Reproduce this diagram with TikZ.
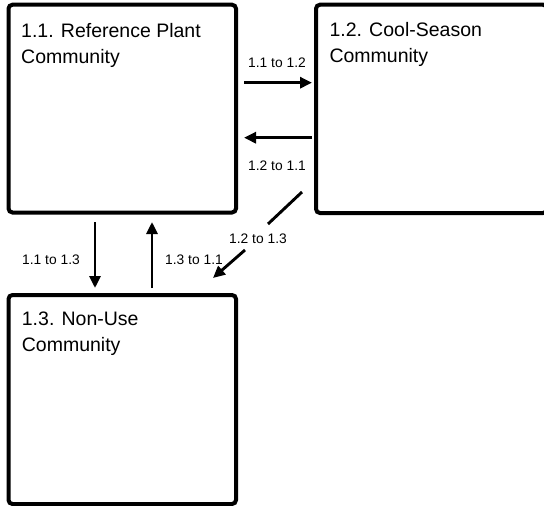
\documentclass[tikz,border=0pt]{standalone}
\usepackage{fontspec}
\setmainfont{Liberation Sans}
\usetikzlibrary{arrows.meta}
\begin{document}
\begin{tikzpicture}[x=1pt,y=-1pt,
  box/.style={draw, line width=4pt, rounded corners=4pt, inner sep=0pt, outer sep=0pt},
  title/.style={anchor=base west, inner sep=0pt, font=\fontsize{19.5}{26}\selectfont, align=left},
  lbl/.style={anchor=base, inner sep=0pt, font=\fontsize{13.8}{16}\selectfont},
  arr/.style={line width=2.9pt, -{Triangle[length=12pt,width=11pt]}}]
\clip (0,0) rectangle (544,506);
% boxes
\node[box, minimum width=227.5pt, minimum height=207.8pt] (b11) at (122.25,108.6) {};
\node[box, minimum width=231pt, minimum height=208.3pt] (b12) at (431.5,108.85) {};
\node[box, minimum width=227.5pt, minimum height=209pt] (b13) at (122.25,399.5) {};
% titles (anchor = baseline of last line)
\node[title] (t11) at (21,63) {1.1. Reference Plant\\Community};
\node[title] (t12) at (329.3,62) {1.2. Cool-Season\\Community};
\node[title] (t13) at (21.7,351) {1.3. Non-Use\\Community};
% arrow endpoints
\coordinate (a1s) at (244,82.7);  \coordinate (a1e) at (312,82.7);
\coordinate (a2s) at (312,137.7); \coordinate (a2e) at (244,137.7);
\coordinate (a3s) at (95,222);    \coordinate (a3e) at (95,288);
\coordinate (a4s) at (152,288);   \coordinate (a4e) at (152,222);
\coordinate (d1) at (302,192);    \coordinate (d2) at (268,224);
\coordinate (d3) at (245,250);    \coordinate (d4) at (213,278);
% arrows
\draw[arr] (a1s) -- (a1e);
\draw[arr] (a2s) -- (a2e);
\draw[arr] (a3s) -- (a3e);
\draw[arr] (a4s) -- (a4e);
\draw[line width=2.9pt] (d1) -- (d2);
\draw[arr] (d3) -- (d4);
% labels
\node[lbl] (l1) at (277,67) {1.1 to 1.2};
\node[lbl] (l2) at (277,170) {1.2 to 1.1};
\node[lbl] (l3) at (51,264) {1.1 to 1.3};
\node[lbl] (l4) at (194,264) {1.3 to 1.1};
\node[lbl] (l5) at (258,243) {1.2 to 1.3};
\end{tikzpicture}
\end{document}
